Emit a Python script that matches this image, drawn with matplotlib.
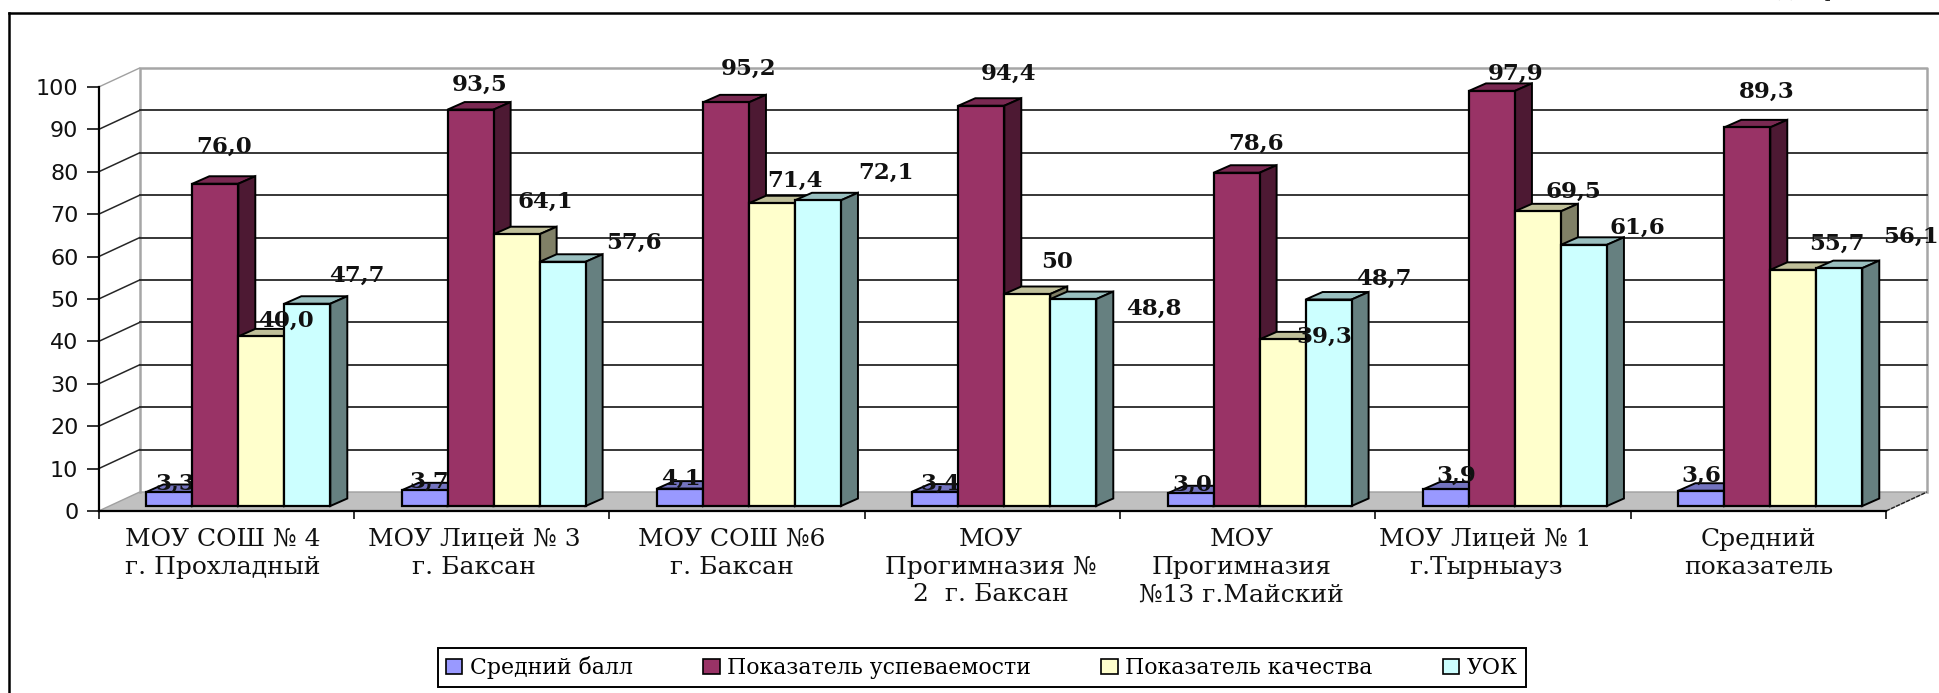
import matplotlib
matplotlib.use("Agg")
import matplotlib.pyplot as plt
from matplotlib.patches import Polygon, Patch
from matplotlib.lines import Line2D

W, H = 1939, 693

categories = ["МОУ СОШ № 4\nг. Прохладный", "МОУ Лицей № 3\nг. Баксан", "МОУ СОШ №6\nг. Баксан",
              "МОУ\nПрогимназия №\n2  г. Баксан", "МОУ\nПрогимназия\n№13 г.Майский",
              "МОУ Лицей № 1\nг.Тырныауз", "Средний\nпоказатель"]
series_names = ["Средний балл", "Показатель успеваемости", "Показатель качества", "УОК"]
avg_score = [3.3, 3.7, 4.1, 3.4, 3.0, 3.9, 3.6]
progress = [76.0, 93.5, 95.2, 94.4, 78.6, 97.9, 89.3]
quality = [40.0, 64.1, 71.4, 50.0, 39.3, 69.5, 55.7]
uok = [47.7, 57.6, 72.1, 48.8, 48.7, 61.6, 56.1]
label_avg = ["3,3", "3,7", "4,1", "3,4", "3,0", "3,9", "3,6"]
label_progress = ["76,0", "93,5", "95,2", "94,4", "78,6", "97,9", "89,3"]
label_quality = ["40,0", "64,1", "71,4", "50", "39,3", "69,5", "55,7"]
label_uok = ["47,7", "57,6", "72,1", "48,8", "48,7", "61,6", "56,1"]
y_ticks = [0, 10, 20, 30, 40, 50, 60, 70, 80, 90, 100]

series = [avg_score, progress, quality, uok]
labels = [label_avg, label_progress, label_quality, label_uok]

# label offsets from the top centre of each bar's front face, reference pixels
off_x = [[5, 4, 1, 4, 1, 8, 0], [7, 7, 18, 22, 16, 19, 16],
         [20, 23, 19, 24, 34, 29, 35], [40, 58, 55, 65, 45, 43, 58]]
off_y = [[-7, -7, -8, -6, -7, -11, -12], [-30, -20, -27, -26, -23, -14, -29],
         [-13, -26, -18, -26, -2, -16, -21], [-23, -15, -22, 8, -17, -14, -25]]
cat_shift = [-3, -6, -4, -1, -5, -14, 0]
SCALE_X, SCALE_Y = 1.2366, 1.2375

face = ["#9999FF", "#993366", "#FFFFCC", "#CCFFFF"]
top = ["#7373BF", "#7A2952", "#BFBF99", "#99BFBF"]
side = ["#4D4D80", "#4D1933", "#808066", "#668080"]

fig = plt.figure(figsize=(W / 100, H / 100), dpi=100, facecolor="white")
L, R, T, B = 98.7, 1886.0, 87.0, 511.0
ax = fig.add_axes([L / W, 1 - B / H, (R - L) / W, (B - T) / H])
ax.set_xlim(0, 7)
ax.set_ylim(0, 100)
ax.patch.set_visible(False)
for s in ax.spines.values():
    s.set_visible(False)

px = 7 / (R - L)
py = 100 / (B - T)
wall_dx, wall_dy = 41 * px, 19 * py
plane_dx, plane_dy = 12 * px, 5 * py
bar_dx, bar_dy = 17 * px, 7.5 * py
bar_w = 46 * px
gap = 35.6 * px

# floor and walls
ax.add_patch(Polygon([(0, 0), (7, 0), (7 + wall_dx, wall_dy), (wall_dx, wall_dy)],
                     closed=True, fc="#C0C0C0", ec="#A0A0A0", lw=1, clip_on=False, zorder=1))
grey = "#A6A6A6"
ax.plot([wall_dx, wall_dx, 7 + wall_dx, 7 + wall_dx], [wall_dy, 100 + wall_dy, 100 + wall_dy, wall_dy],
        color=grey, lw=1.8, clip_on=False, zorder=1.2)
ax.plot([0, wall_dx], [100, 100 + wall_dy], color="#A0A0A0", lw=1, clip_on=False, zorder=1.2)
for v in y_ticks[1:-1]:
    ax.plot([wall_dx, 7 + wall_dx], [v + wall_dy] * 2, color="#262626", lw=1.3, clip_on=False, zorder=1.5)
    ax.plot([0, wall_dx], [v, v + wall_dy], color="#262626", lw=1.1, clip_on=False, zorder=1.5)
ax.plot([7, 7 + wall_dx], [0, wall_dy], color="#222222", lw=1, ls=(0, (3, 1)), clip_on=False, zorder=1.5)

# axes lines
ax.plot([0, 0], [0, 100], color="black", lw=1.6, clip_on=False, zorder=6)
ax.plot([0, 7], [0, 0], color="black", lw=1.6, clip_on=False, zorder=6)

ax.set_yticks(y_ticks)
ax.set_xticks(range(8))
ax.set_xticklabels([])
ax.tick_params(axis="y", length=8.6, width=1.2, pad=6, labelsize=16, labelfontfamily="DejaVu Sans", colors="#111111")
ax.tick_params(axis="x", length=5.8, width=1.2, colors="#111111")

for i, cat in enumerate(categories):
    ax.annotate(cat, (i + 0.5, 0), xytext=(cat_shift[i] * SCALE_X * 0.72, -12), textcoords="offset points",
                ha="center", va="top", family="DejaVu Serif", fontsize=18, color="#111111", linespacing=1.27,
                annotation_clip=False)

# bars
for s, values in enumerate(series):
    for i, v in enumerate(values):
        x0 = i + gap + plane_dx + s * bar_w
        x1 = x0 + bar_w
        y0 = plane_dy
        y1 = plane_dy + v
        kw = dict(closed=True, ec="black", lw=1.4, clip_on=False, zorder=3 + s * 0.2)
        ax.bar(x0, v, width=bar_w, bottom=y0, align="edge", color=face[s], edgecolor="black",
               linewidth=1.6, clip_on=False, zorder=3.1 + s * 0.2)
        ax.add_patch(Polygon([(x0, y1), (x1, y1), (x1 + bar_dx, y1 + bar_dy), (x0 + bar_dx, y1 + bar_dy)], fc=top[s], **kw))
        ax.add_patch(Polygon([(x1, y0), (x1, y1), (x1 + bar_dx, y1 + bar_dy), (x1 + bar_dx, y0 + bar_dy)], fc=side[s], **kw))
        # the first series' labels sit behind the second series' bars, except 3,9
        z = 3.15 if (s == 0 and i != 5) else 8
        ax.annotate(labels[s][i], (x0 + bar_w / 2, y1),
                    xytext=(off_x[s][i] * SCALE_X * 0.72, -off_y[s][i] * SCALE_Y * 0.72),
                    textcoords="offset points", ha="center", va="center", family="DejaVu Serif",
                    fontweight="bold", fontsize=16.5, color="#111111", zorder=z, annotation_clip=False)

# outer frame (cropped by the image on the right and bottom)
fig.add_artist(Line2D([9 / W, 9 / W], [0, 1 - 13 / H], color="black", lw=1.8))
fig.add_artist(Line2D([9 / W, 1], [1 - 13 / H, 1 - 13 / H], color="black", lw=1.8))

# cropped heading at the top right
fig.text(1 - 36 / W, 1 + 8 / H, "Диаграмма 1", ha="right", va="center", family="DejaVu Serif", fontsize=13, color="#222222")

handles = [Patch(fc=face[k], ec="black", lw=1.2) for k in range(4)]
leg = fig.legend(handles, series_names, loc="lower left",
                 bbox_to_anchor=(438 / W, 1 - 687 / H, (1526 - 438) / W, 42 / H), mode="expand", ncol=4,
                 prop={"family": "DejaVu Serif", "size": 15.8}, frameon=True, fancybox=False,
                 edgecolor="black", framealpha=1, handlelength=0.75, handleheight=0.7, handletextpad=0.35,
                 borderaxespad=0, borderpad=0.36, columnspacing=0.4)
leg.get_frame().set_linewidth(1.4)

fig.savefig("out.png", dpi=100, facecolor="white")
